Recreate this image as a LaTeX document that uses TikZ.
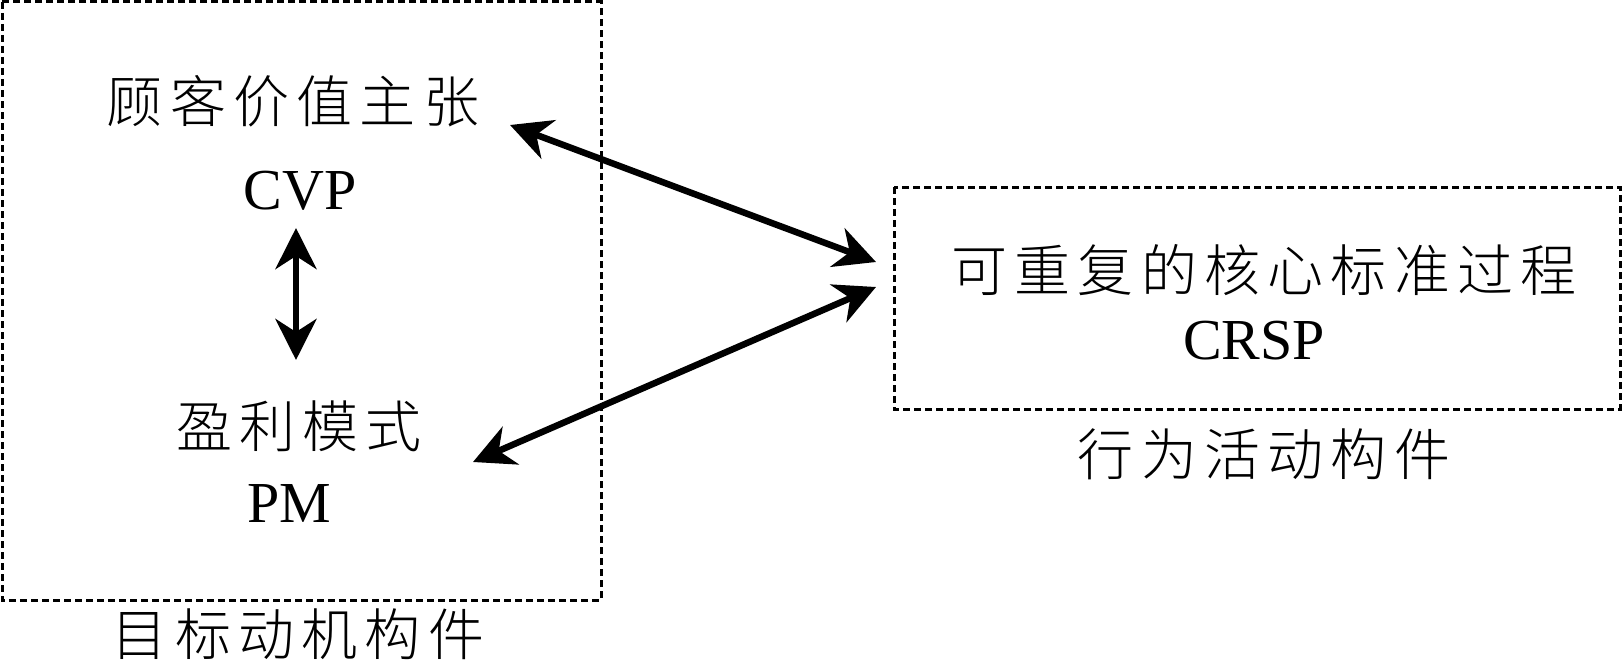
\documentclass[tikz,border=0pt]{standalone}
\usepackage{fontspec}
\setmainfont{Liberation Serif}
\newfontfamily\cjk[LetterSpace=13]{Noto Sans CJK SC Light}
\usetikzlibrary{arrows.meta}
\begin{document}
\begin{tikzpicture}[x=1pt,y=-1pt,
  box/.style={draw=black,line width=3pt,dash pattern=on 7pt off 4pt},
  cjktext/.style={inner sep=0pt,anchor=base,font=\cjk\fontsize{56}{60}\selectfont},
  latintext/.style={inner sep=0pt,anchor=base,font=\fontsize{58}{62}\selectfont},
  biarrow/.style={line width=6.5pt,{Stealth[length=41pt,width=41pt,inset=13pt]}-{Stealth[length=41pt,width=41pt,inset=13pt]}}
]
\useasboundingbox (0,0) rectangle (1623,661);
% boxes
\draw[box] (2,2) rectangle (601,600);
\draw[box] (894,187) rectangle (1620,409);
% texts
\node[cjktext] (cvpzh) at (293,122) {顾客价值主张};
\node[latintext] (cvp) at (300,209) {CVP};
\node[cjktext] (pmzh) at (299,447) {盈利模式};
\node[latintext] (pm) at (289,522) {PM};
\node[cjktext] (goal) at (298,655) {目标动机构件};
\node[cjktext] (crspzh) at (1264,291) {可重复的核心标准过程};
\node[latintext] (crsp) at (1254,359) {CRSP};
\node[cjktext] (act) at (1264,475) {行为活动构件};
% arrow end points
\coordinate (a1s) at (510,125);
\coordinate (a1e) at (876,262);
\coordinate (a2s) at (876,287);
\coordinate (a2e) at (473,462);
\coordinate (vs) at (296,228);
\coordinate (ve) at (296,360);
\draw[biarrow] (a1s) -- (a1e);
\draw[biarrow] (a2s) -- (a2e);
\draw[biarrow] (vs) -- (ve);
\end{tikzpicture}
\end{document}
